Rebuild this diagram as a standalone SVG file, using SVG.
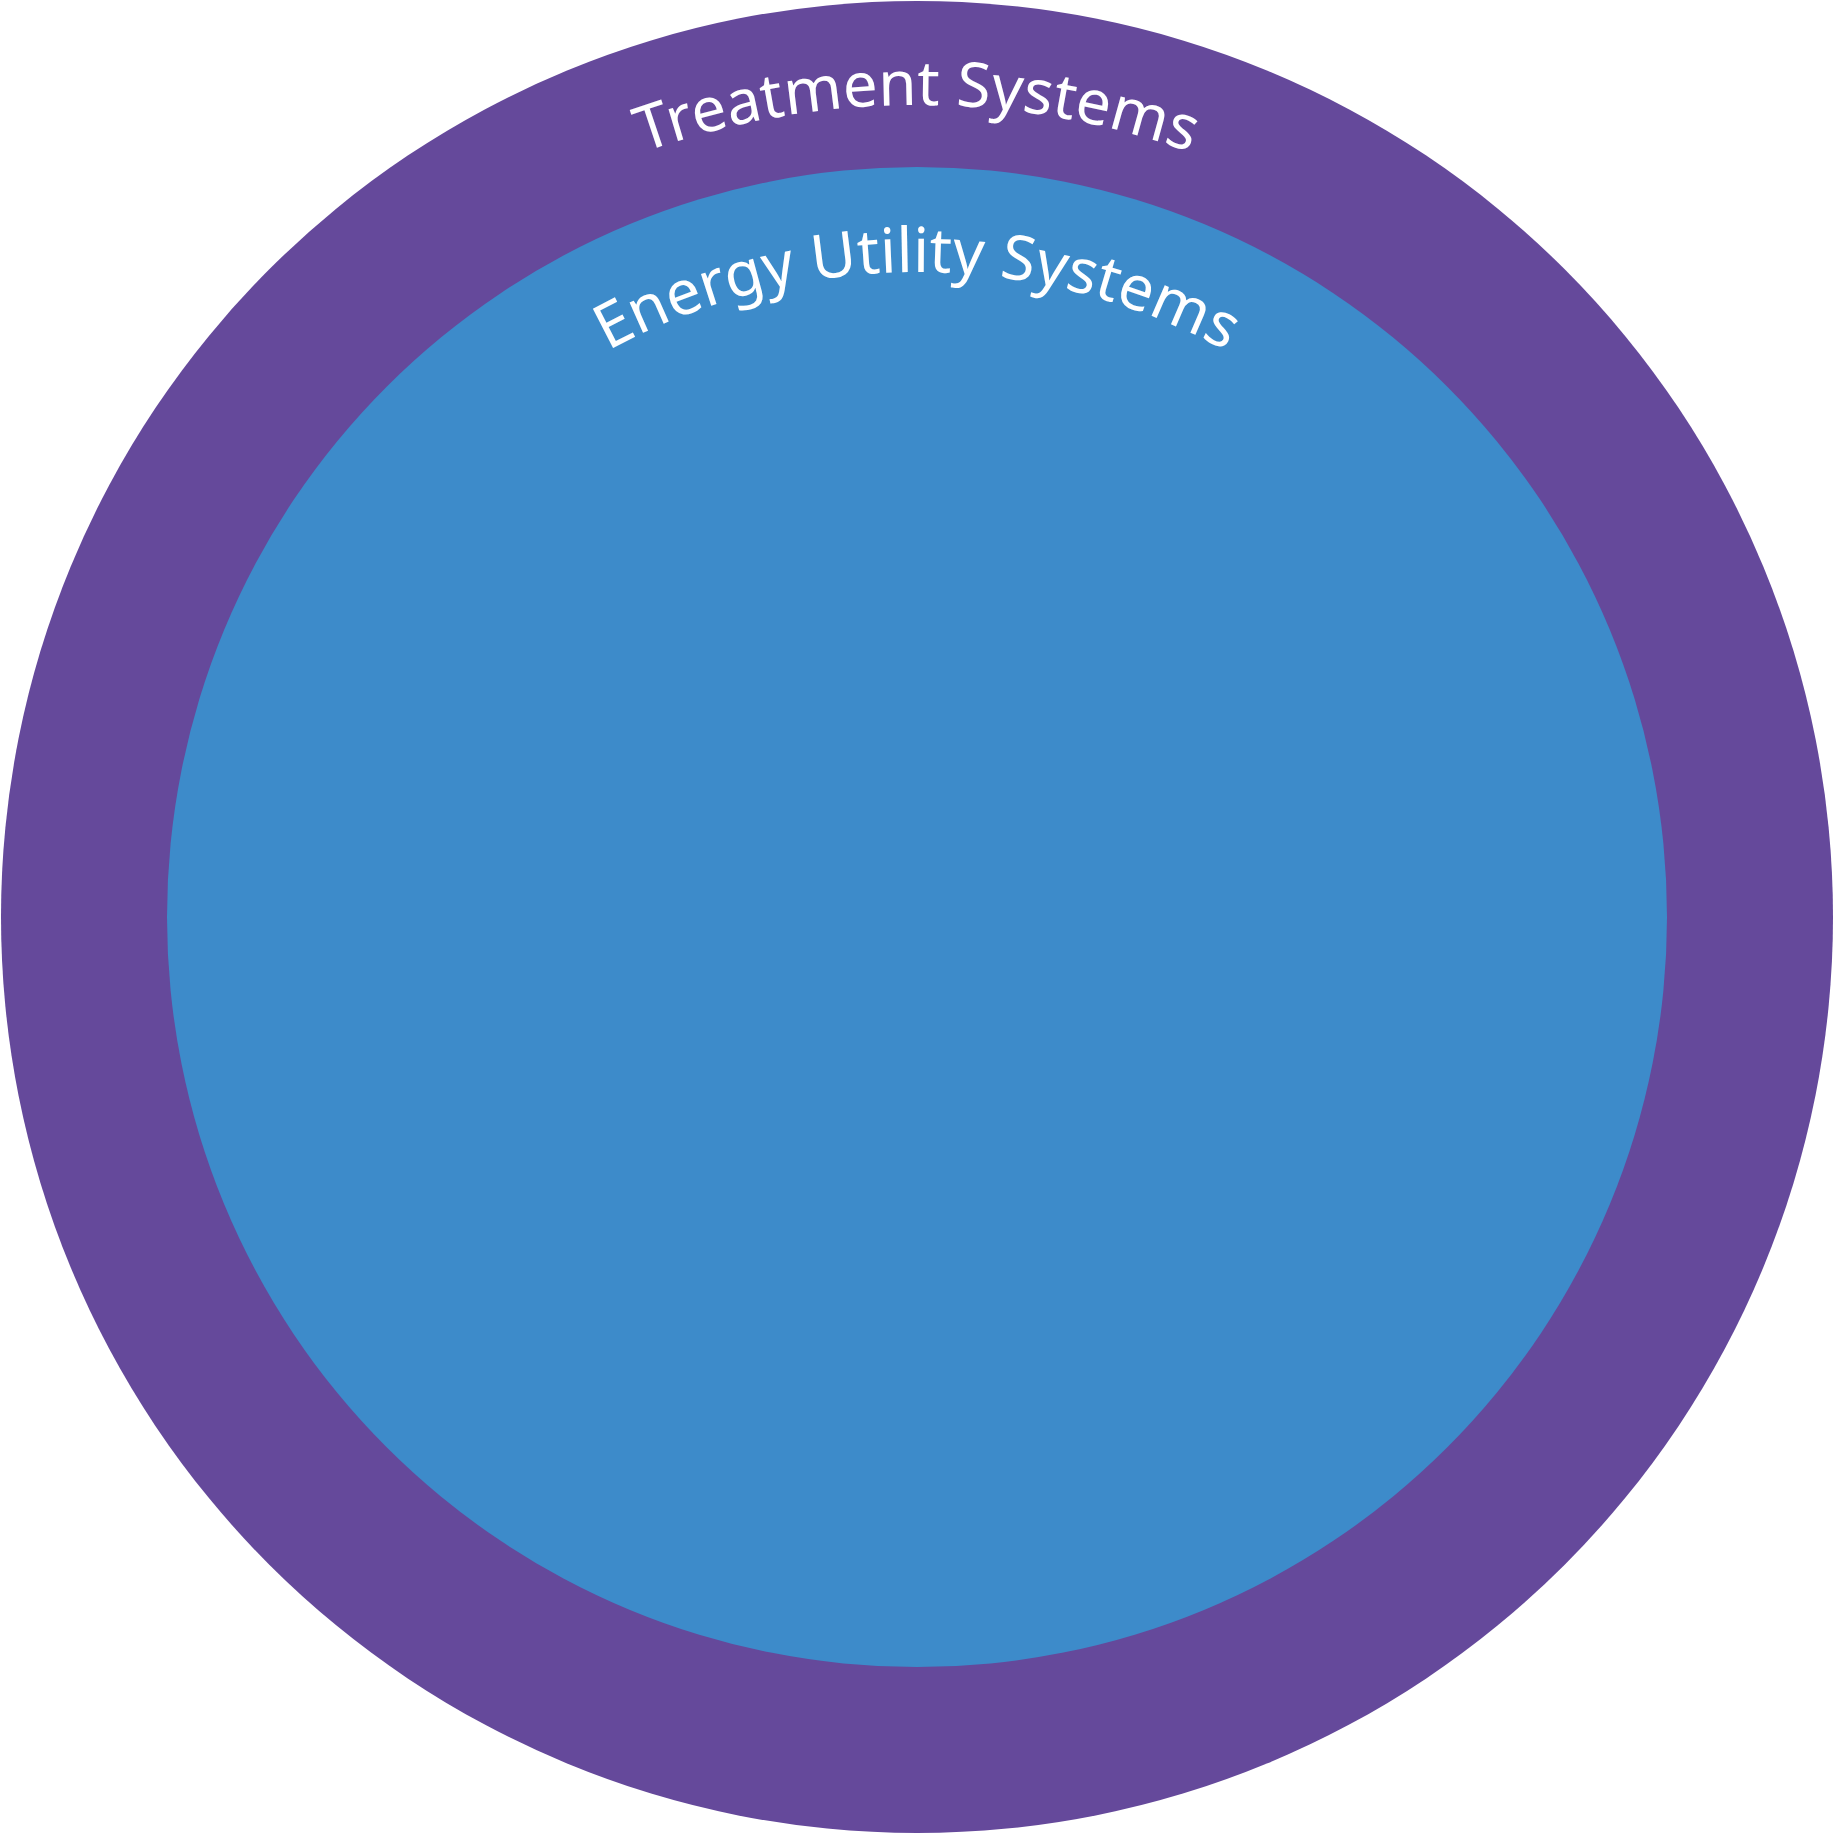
<svg xmlns="http://www.w3.org/2000/svg" xmlns:xlink="http://www.w3.org/1999/xlink" width="1834" height="1834" viewBox="0 0 1834 1834">
<style>
.lbl{font-family:"Noto Sans","Liberation Sans",sans-serif;font-size:62px;fill:#ffffff;}
</style>
<defs>
<path id="arcOuter" d="M 105,917 A 812 812 0 0 1 1729,917" fill="none"/>
<path id="arcInner" d="M 272,917 A 645 645 0 0 1 1562,917" fill="none"/>
</defs>
<rect width="1834" height="1834" fill="#ffffff"/>
<g id="treatment-systems">
<circle cx="917" cy="917" r="916" fill="#65499B"/>
<text class="lbl"><textPath xlink:href="#arcOuter" href="#arcOuter" startOffset="50%" text-anchor="middle">Treatment Systems</textPath></text>
</g>
<g id="energy-utility-systems">
<circle cx="917" cy="917" r="750" fill="#3D8BCA"/>
<text class="lbl"><textPath xlink:href="#arcInner" href="#arcInner" startOffset="50%" text-anchor="middle">Energy Utility Systems</textPath></text>
</g>
<g id="connectors"></g>
</svg>
